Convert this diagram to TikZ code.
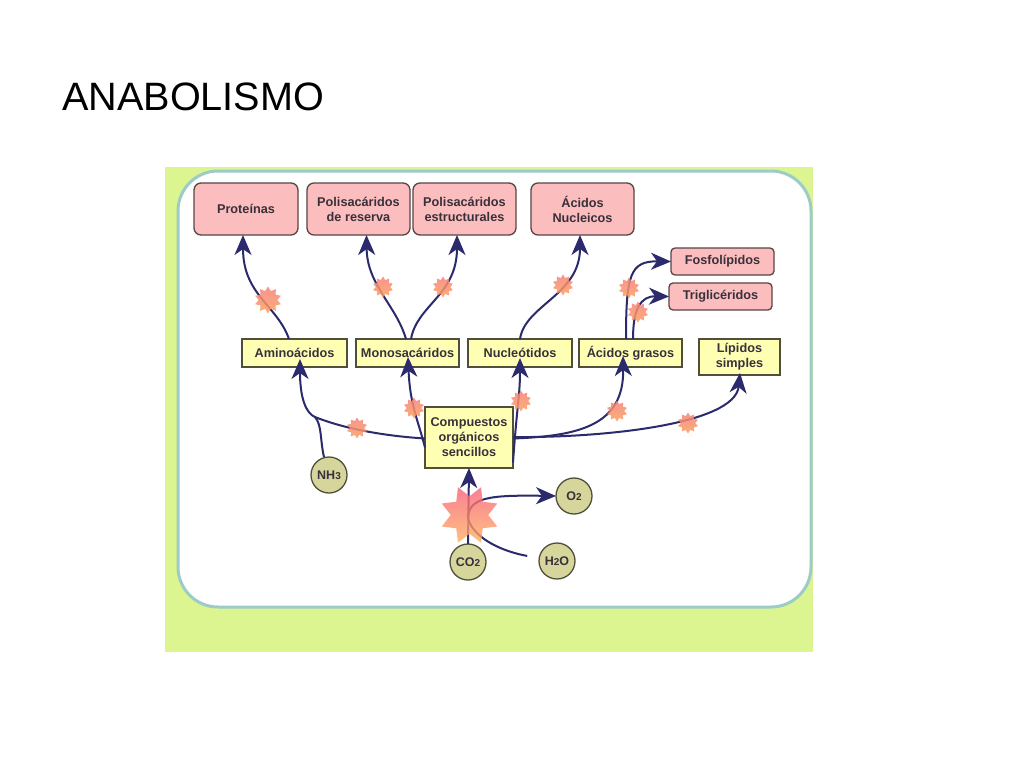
\documentclass[tikz,border=0pt]{standalone}
\usepackage{fontspec}
\setmainfont{Liberation Sans}
\usetikzlibrary{arrows.meta,shapes.geometric}
\definecolor{bggreen}{HTML}{DDF590}
\definecolor{panelline}{HTML}{9CCBC8}
\definecolor{pinkfill}{HTML}{FBBDBD}
\definecolor{pinkline}{HTML}{5A4444}
\definecolor{yellowfill}{HTML}{FFFFB4}
\definecolor{yellowline}{HTML}{50503A}
\definecolor{molfill}{HTML}{D6D69C}
\definecolor{flowblue}{HTML}{2A2A6C}
\definecolor{boxtext}{HTML}{38303A}
\definecolor{enzymetop}{HTML}{F6827A}
\definecolor{enzymebottom}{HTML}{FCA060}
\definecolor{bigtop}{HTML}{F8607A}
\definecolor{bigbottom}{HTML}{FFB060}
\tikzset{
  pinkbox/.style={draw=pinkline, fill=pinkfill, line width=1.3pt, rounded corners=7pt,
    align=center, font=\bfseries\fontsize{12.7}{15}\selectfont, text=boxtext, inner sep=0pt, outer sep=0pt},
  yellowbox/.style={draw=yellowline, fill=yellowfill, line width=1.2pt,
    align=center, font=\bfseries\fontsize{12.7}{15}\selectfont, text=boxtext, inner sep=0pt, outer sep=0pt},
  mol/.style={circle, draw=yellowline, fill=molfill, line width=1.3pt, minimum size=36pt,
    font=\bfseries\fontsize{12.5}{15}\selectfont, text=boxtext, inner sep=0pt, outer sep=0pt},
  flow/.style={draw=flowblue, line width=2pt, -{Stealth[length=20pt,width=17pt,inset=6pt]}},
  branch/.style={draw=flowblue, line width=2pt},
  enzyme/.style={star, star points=10, star point ratio=1.45, minimum size=21pt, inner sep=0pt,
    top color=enzymetop, bottom color=enzymebottom, opacity=0.85},
  bigenzyme/.style={star, star points=8, star point ratio=1.6, shape border rotate=22.5, minimum size=60pt,
    inner sep=0pt, top color=bigtop, bottom color=bigbottom, opacity=0.8}
}
\begin{document}
\begin{tikzpicture}[x=1pt, y=-1pt]
\useasboundingbox (0,0) rectangle (1024,768);
\node [anchor=base west, font=\fontsize{39.6}{42}\selectfont, inner sep=0pt] (title) at (62,110) {ANABOLISMO};

\path [fill=bggreen] (165,167) rectangle (813,652);
\draw [panelline, line width=3pt, fill=white, rounded corners=40pt] (178,171) rectangle (811,607);

%%%%%%%%%%%%%%%%%%%%%%%%%%%%%%%%%%%%%%%%

\node [pinkbox, minimum width=104pt, minimum height=52pt] (prot) at (246,209) {Proteínas};
\node [pinkbox, minimum width=103pt, minimum height=52pt] (reserva) at (358.5,209) {Polisacáridos\\de reserva};
\node [pinkbox, minimum width=103pt, minimum height=52pt] (estruct) at (464.5,209) {Polisacáridos\\estructurales};
\node [pinkbox, minimum width=103pt, minimum height=52pt] (nucleicos) at (582.5,209) {Ácidos\\Nucleicos};
\node [pinkbox, minimum width=103pt, minimum height=27pt, rounded corners=4pt] (fosfo) at (722.5,261.5) {Fosfolípidos};
\node [pinkbox, minimum width=103pt, minimum height=27pt, rounded corners=4pt] (trig) at (720.5,296.5) {Triglicéridos};

\node [yellowbox, minimum width=105pt, minimum height=28pt] (amino) at (294.5,353) {Aminoácidos};
\node [yellowbox, minimum width=103pt, minimum height=28pt] (mono) at (407.5,353) {Monosacáridos};
\node [yellowbox, minimum width=104pt, minimum height=28pt] (nucleo) at (520,353) {Nucleótidos};
\node [yellowbox, minimum width=103pt, minimum height=28pt] (grasos) at (630.5,353) {Ácidos grasos};
\node [yellowbox, minimum width=81pt, minimum height=36pt] (simples) at (739.5,357) {Lípidos\\simples};
\node [yellowbox, minimum width=88pt, minimum height=61pt] (comp) at (469,437.5) {Compuestos\\orgánicos\\sencillos};

\node [mol] (nh) at (329,475) {NH{\fontsize{10}{10}\selectfont 3}};
\node [mol] (otwo) at (574,496) {O{\fontsize{10}{10}\selectfont 2}};
\node [mol] (co) at (468,562) {CO{\fontsize{10}{10}\selectfont 2}};
\node [mol] (water) at (557,561) {H{\fontsize{10}{10}\selectfont 2}O};

\path (315,417) coordinate (nhjoin);
\path (468,519) coordinate (fixation);

%%%%%%%%%%%%%%%%%%%%%%%%%%%%%%%%%%%%%%%%

\draw [flow] ([xshift=-5.5pt]amino.north) .. controls (277,305) and (243,295) .. ([xshift=-3pt]prot.south);
\draw [flow] ([xshift=-1.5pt]mono.north) .. controls (396,305) and (367,285) .. ([xshift=8pt]reserva.south);
\draw [flow] ([xshift=3.5pt]mono.north) .. controls (417,305) and (457,295) .. ([xshift=-7.5pt]estruct.south);
\draw [flow] (nucleo.north) .. controls (525,305) and (580,295) .. ([xshift=-2.5pt]nucleicos.south);
\draw [flow] ([xshift=-4.5pt]grasos.north) .. controls (626,275) and (630,261) .. (fosfo.west);
\draw [flow] ([xshift=2.5pt]grasos.north) .. controls (633,310) and (640,296) .. (trig.west);

\draw [flow] ([yshift=-1pt]comp.west) .. controls (385,436) and (345,429) .. (nhjoin)
  .. controls (306,413.4) and (300,398) .. ([xshift=5.5pt, yshift=8pt]amino.south);
\draw [branch] (nh.north) ++(-5,0) .. controls (320,440) and (322,425) .. (nhjoin);
\draw [flow] ([yshift=-10pt]comp.west) .. controls (418,420) and (410,405) .. ([xshift=0.5pt, yshift=10pt]mono.south);
\draw [flow] ([yshift=-25pt]comp.east) .. controls (517,405) and (520,395) .. ([yshift=9pt]nucleo.south);
\draw [flow] ([yshift=-1pt]comp.east) .. controls (580,436) and (624,425) .. ([xshift=-7.5pt, yshift=11pt]grasos.south);
\draw [flow] ([yshift=0.5pt]comp.east) .. controls (600,438) and (735,425) .. ([xshift=0.5pt, yshift=2pt]simples.south);

\draw [flow] (co.north) -- (comp.south);
\draw [flow] (fixation) .. controls (468,497) and (490,495) .. (otwo.west);
\draw [branch, shorten <=12pt] (water.west) ++(0,-3) .. controls (505,552) and (475,540) .. (fixation);

%%%%%%%%%%%%%%%%%%%%%%%%%%%%%%%%%%%%%%%%

\node [enzyme, minimum size=27pt] (e1) at (268,300) {};
\node [enzyme] (e2) at (383,287) {};
\node [enzyme] (e3) at (443,287) {};
\node [enzyme] (e4) at (563,285) {};
\node [enzyme] (e5) at (629,288) {};
\node [enzyme] (e6) at (638,312) {};
\node [enzyme] (e7) at (357,428) {};
\node [enzyme] (e8) at (414,408) {};
\node [enzyme] (e9) at (521,401) {};
\node [enzyme] (e10) at (617,411) {};
\node [enzyme] (e11) at (688,423) {};
\node [bigenzyme] (e12) at (469.5,515) {};

\end{tikzpicture}
\end{document}
